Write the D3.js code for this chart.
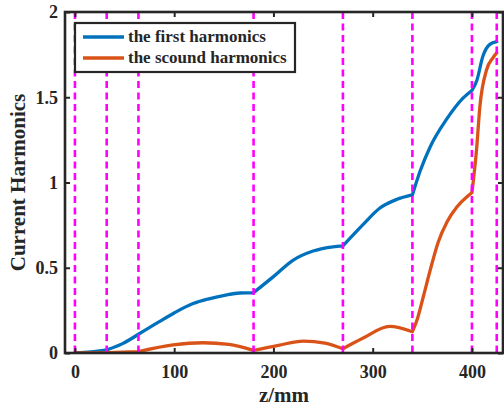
<!DOCTYPE html>
<html>
<head>
<meta charset="utf-8">
<script src="https://cdn.jsdelivr.net/npm/d3@7"></script>
<style>
  body { margin: 0; background: #fff; }
  svg text { font-family: "Liberation Serif", "Times New Roman", serif; font-weight: bold; fill: #262626; }
</style>
</head>
<body>
<div id="chart"></div>
<script>
// values
const zBlue = [0, 16, 32, 48, 64, 85, 100, 119, 135, 152, 166, 180, 200, 220, 240, 260, 270,
  290, 307, 324, 340, 348, 358, 374, 391, 400, 405, 411, 418, 425];
const firstHarm = [0, 0.006, 0.018, 0.055, 0.11, 0.184, 0.235, 0.29, 0.318, 0.34, 0.352, 0.354,
  0.448, 0.545, 0.598, 0.623, 0.628, 0.751, 0.849, 0.9, 0.927, 1.07, 1.21, 1.367, 1.495, 1.54,
  1.6, 1.74, 1.81, 1.826];

const zOrange = [0, 32, 64, 99, 129, 155, 180, 205, 230, 252, 270, 290, 317, 340, 345, 351, 358,
  366, 375, 385, 395, 400, 404.6, 408, 414.7, 421, 425];
const secondHarm = [0, 0.002, 0.008, 0.047, 0.06, 0.05, 0.015, 0.045, 0.07, 0.058, 0.025, 0.086,
  0.156, 0.125, 0.2, 0.33, 0.487, 0.65, 0.77, 0.858, 0.917, 0.94, 1.19, 1.445, 1.66, 1.73, 1.76];

const boundaries = [0, 32, 64, 180, 270, 340, 400, 425];
const xTicks = [0, 100, 200, 300, 400];
const yTicks = [0, 0.5, 1, 1.5, 2];
const legendLabels = ['the first harmonics', 'the scound harmonics'];
const colors = ['#0072BD', '#D95319'];

const dim = { width: 504, height: 411, left: 65, right: 503, top: 12, bottom: 353 };

const x = d3.scaleLinear().domain([-10, 431.3]).range([dim.left, dim.right]);
const y = d3.scaleLinear().domain([0, 2]).range([dim.bottom, dim.top]);

const svg = d3.select('#chart')
  .append('svg')
    .attr('width', dim.width)
    .attr('height', dim.height);

svg.append('defs').append('clipPath').attr('id', 'clip')
  .append('rect')
    .attr('x', dim.left).attr('y', dim.top)
    .attr('width', dim.right - dim.left).attr('height', dim.bottom - dim.top);

const plot = svg.append('g').attr('clip-path', 'url(#clip)');

// each section between two dashed lines is its own smooth piece
const line = d3.line()
  .x(d => x(d[0]))
  .y(d => y(d[1]))
  .curve(d3.curveMonotoneX);

const piecewisePath = (zs, vs) => {
  const pts = zs.map((z, i) => [z, vs[i]]);
  let d = '';
  for (let i = 0; i < boundaries.length - 1; i++) {
    const seg = pts.filter(p => p[0] >= boundaries[i] && p[0] <= boundaries[i + 1]);
    if (seg.length > 1) d += line(seg);
  }
  return d;
};

const plotSeries = (zs, vs, color) => {
  plot.append('path')
    .attr('d', piecewisePath(zs, vs))
    .attr('fill', 'none')
    .attr('stroke', color)
    .attr('stroke-width', 3.3)
    .attr('stroke-linecap', 'round')
    .attr('stroke-linejoin', 'round');
};

plotSeries(zBlue, firstHarm, colors[0]);
plotSeries(zOrange, secondHarm, colors[1]);

plot.selectAll('.bound')
  .data(boundaries)
  .enter()
  .append('line')
    .attr('class', 'bound')
    .attr('x1', d => x(d)).attr('x2', d => x(d))
    .attr('y1', dim.top).attr('y2', dim.bottom)
    .attr('stroke', '#ff00ff')
    .attr('stroke-width', 2.6)
    .attr('stroke-dasharray', '7,4.5');

// axes, ticks pointing inward
const styleAxis = (g) => {
  g.select('.domain').remove();
  g.selectAll('.tick line').attr('stroke', '#262626').attr('stroke-width', 2);
  g.selectAll('.tick text').attr('font-size', '18px').attr('fill', '#262626');
};

svg.append('g')
  .attr('transform', `translate(0, ${dim.bottom})`)
  .call(d3.axisBottom(x).tickValues(xTicks).tickSize(-5).tickPadding(12))
  .call(styleAxis);

svg.append('g')
  .attr('transform', `translate(0, ${dim.top})`)
  .call(d3.axisTop(x).tickValues(xTicks).tickSize(-5).tickFormat(''))
  .call(styleAxis);

svg.append('g')
  .attr('transform', `translate(${dim.left}, 0)`)
  .call(d3.axisLeft(y).tickValues(yTicks).tickSize(-5).tickPadding(7).tickFormat(d => String(d)))
  .call(styleAxis);

svg.append('g')
  .attr('transform', `translate(${dim.right}, 0)`)
  .call(d3.axisRight(y).tickValues(yTicks).tickSize(-5).tickFormat(''))
  .call(styleAxis);

svg.append('rect')
  .attr('x', dim.left).attr('y', dim.top)
  .attr('width', dim.right - dim.left).attr('height', dim.bottom - dim.top)
  .attr('fill', 'none')
  .attr('stroke', '#262626')
  .attr('stroke-width', 2.6);

svg.append('text')
  .attr('text-anchor', 'middle')
  .attr('font-size', '21px')
  .attr('transform', `translate(${(dim.left + dim.right) / 2}, 402)`)
  .text('z/mm');

svg.append('text')
  .attr('text-anchor', 'middle')
  .attr('font-size', '21px')
  .attr('transform', `translate(25, ${(dim.top + dim.bottom) / 2}) rotate(-90)`)
  .text('Current Harmonics');

// legend
const legend = svg.append('g').attr('transform', 'translate(75, 23)');
legend.append('rect')
  .attr('width', 220).attr('height', 49)
  .attr('fill', '#fff')
  .attr('stroke', '#262626')
  .attr('stroke-width', 2.2);

legendLabels.forEach((label, i) => {
  const yo = 14 + i * 21;
  legend.append('line')
    .attr('x1', 8).attr('x2', 49)
    .attr('y1', yo).attr('y2', yo)
    .attr('stroke', colors[i])
    .attr('stroke-width', 3.3);
  legend.append('text')
    .attr('x', 53).attr('y', yo + 5)
    .attr('font-size', '17px')
    .text(label);
});
</script>
</body>
</html>
